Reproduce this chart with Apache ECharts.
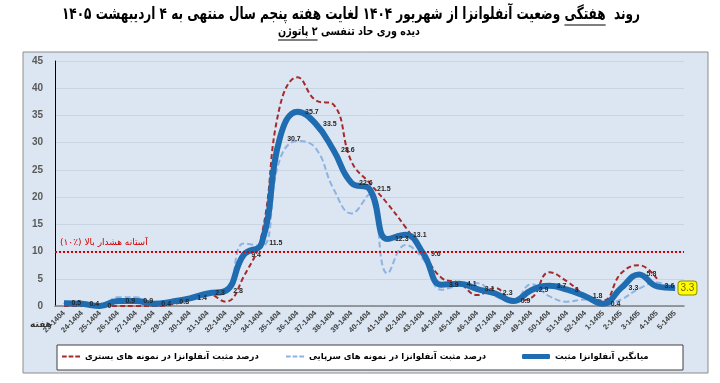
<!DOCTYPE html>
<html><head><meta charset="utf-8">
<script src="https://cdn.jsdelivr.net/npm/echarts@6/dist/echarts.min.js"></script>
<style>html,body{margin:0;padding:0;background:#fff}#c{width:720px;height:383px}</style>
</head><body><div id="c"></div>
<script>
var categories = ['23-1404','24-1404','25-1404','26-1404','27-1404','28-1404','29-1404','30-1404','31-1404','32-1404','33-1404','34-1404','35-1404','36-1404','37-1404','38-1404','39-1404','40-1404','41-1404','42-1404','43-1404','44-1404','45-1404','46-1404','47-1404','48-1404','49-1404','50-1404','51-1404','52-1404','1-1405','2-1405','3-1405','4-1405','5-1405'];
var meanPositive = [0.5,0.4,0,0.9,0.9,0.4,0.8,1.4,2.3,2.8,9.4,11.5,30.7,35.7,33.5,28.6,22.6,21.5,12.3,13.1,9.6,3.9,4.1,3.1,2.3,0.9,2.9,3.7,3,1.8,0.4,3.3,5.8,3.6,3.3];
var inpatient = [0,0,0,0,0,0,0.3,1.2,2.2,0.8,5.4,13,36.5,42,37.8,37,26.5,22.6,18.8,14.5,9.8,5.2,4.2,2,3.3,0.9,1.5,6.2,4.5,2,1,6,7.5,5,null];
var outpatient = [0.8,0.6,0.1,1.6,1.6,0.6,0.7,1.4,2.4,2.5,11.5,11,26.8,30.3,29,21.5,17,20.5,6,11.2,8.5,3,3.8,4.2,1.8,1,4,1.8,0.8,1.2,0.2,1.2,3.2,4.3,3.3];
var yTicks = {min:0, max:45, interval:5};
var threshold = 10;
var seriesNames = ['درصد مثبت آنفلوانزا در نمونه های بستری','درصد مثبت آنفلوانزا در نمونه های سرپایی','میانگین آنفلوانزا مثبت'];
var titleText = 'روند  هفتگی وضعیت آنفلوانزا از شهریور ۱۴۰۴ لغایت هفته پنجم سال منتهی به ۴ اردیبهشت ۱۴۰۵';
var titleUnderlined = 'هفتگی';
var titlePrefix = 'روند  ';
var subText = 'دیده وری حاد تنفسی ۲ پاتوژن';
var subUnderlined = '۲ پاتوژن';
var thresholdLabel = 'آستانه هشدار بالا (٪۱۰)';
var xName = 'هفته';

var FA = 'DejaVu Sans';
var ctx = document.createElement('canvas').getContext('2d');
function tw(text, font){ ctx.font = font; return ctx.measureText(text).width; }

var titleFont = 'bold 15px "DejaVu Sans"';
var titleW = tw(titleText, titleFont);
var titleCx = 351, titleTargetW = 578;
var tsx = titleTargetW / titleW;
var titleRight = titleCx + titleTargetW/2;
var ulR = titleRight - tw(titlePrefix, titleFont)*tsx;
var ulL = ulR - tw(titleUnderlined, titleFont)*tsx;

var subFont = 'bold 11px "DejaVu Sans"';
var subW = tw(subText, subFont);
var subCx = 349, subTargetW = 142;
var ssx = subTargetW / subW;
var subLeft = subCx - subTargetW/2;
var sulR = subLeft + tw(subUnderlined, subFont)*ssx;

var chart = echarts.init(document.getElementById('c'));
var last = meanPositive.length - 1;
var meanData = meanPositive.map(function(v, i){
  if (i === last) {
    return {value: v, label: {position:'right', distance:3, fontSize:10, fontWeight:'normal', color:'#7f6000',
      backgroundColor:'#ffff00', borderColor:'#8c8c00', borderWidth:1, borderRadius:3, padding:[2,2,1,2]}};
  }
  return v;
});
var dashIcon = 'path://M0,0h5v2h-5z M7,0h5v2h-5z M14,0h5v2h-5z';
function leg(name, left, icon, w, h){
  return {data:[{name:name, icon:icon}], left:left, top:352, itemWidth:w, itemHeight:h, padding:0, itemGap:4,
    textStyle:{fontFamily:FA, fontSize:8.5, fontWeight:'bold', color:'#000'}};
}
chart.setOption({
  animation:false,
  backgroundColor:'#ffffff',
  graphic:[
    {type:'rect', z:-10, shape:{x:23,y:52,width:685,height:321}, style:{fill:'#dce6f2', stroke:'#8c8c8c', lineWidth:1}},
    {type:'rect', z:-9, shape:{x:57,y:345,width:626,height:25}, style:{fill:'#ffffff', stroke:'#404040', lineWidth:1}},
    {type:'text', left:30, top:320, style:{text:xName, font:'bold 9px "DejaVu Sans"', fill:'#333'}},
    {type:'text', x:titleCx, y:15, scaleX:tsx, scaleY:1.1, style:{text:titleText, font:titleFont, fill:'#000', textAlign:'center', textVerticalAlign:'middle'}},
    {type:'line', shape:{x1:ulL, y1:25, x2:ulR, y2:25}, style:{stroke:'#000', lineWidth:1}},
    {type:'text', x:subCx, y:32, scaleX:ssx, scaleY:1.05, style:{text:subText, font:subFont, fill:'#000', textAlign:'center', textVerticalAlign:'middle'}},
    {type:'line', shape:{x1:subLeft, y1:40, x2:sulR, y2:40}, style:{stroke:'#000', lineWidth:1}}
  ],
  legend:[leg(seriesNames[0],62,dashIcon,18,2.5), leg(seriesNames[1],286,dashIcon,18,2.5), leg(seriesNames[2],522,'roundRect',28,5)],
  grid:{left:55, right:36, top:61, bottom:77},
  xAxis:{
    type:'category', data:categories, boundaryGap:true,
    axisLine:{lineStyle:{color:'#7f7f7f', width:1.5}},
    axisTick:{show:false},
    axisLabel:{rotate:45, fontSize:7.5, fontWeight:'bold', color:'#404040', interval:0, margin:6}
  },
  yAxis:{
    type:'value', min:yTicks.min, max:yTicks.max, interval:yTicks.interval,
    axisLine:{show:true, lineStyle:{color:'#000', width:1}},
    axisTick:{show:false},
    axisLabel:{fontSize:10, fontWeight:'bold', color:'#595959', margin:12},
    splitLine:{lineStyle:{color:'#c9d5e3', width:1}}
  },
  series:[
    {name:seriesNames[0], type:'line', data:inpatient, smooth:0.45, symbol:'none', connectNulls:false,
     lineStyle:{color:'#a52a2a', width:2, type:[5,3]}, itemStyle:{color:'#a52a2a'}, z:3},
    {name:seriesNames[1], type:'line', data:outpatient, smooth:0.45, symbol:'none',
     lineStyle:{color:'#8db3e2', width:2, type:[6,3]}, itemStyle:{color:'#8db3e2'}, z:2},
    {name:seriesNames[2], type:'line', data:meanData, smooth:0.45, symbol:'circle', symbolSize:1, showSymbol:true,
     lineStyle:{color:'#1f6cb0', width:6}, itemStyle:{color:'#1f6cb0'}, z:4,
     label:{show:true, position:'right', distance:7, fontSize:7, fontWeight:'bold', color:'#262626'},
     labelLayout:{hideOverlap:false},
     markLine:{silent:true, symbol:'none', data:[{yAxis:threshold}],
       lineStyle:{color:'#cc0000', width:2, type:'dotted'},
       label:{show:true, position:'insideStartTop', formatter:thresholdLabel, fontFamily:FA, fontSize:9, color:'#cc0000', distance:[5,4]}}}
  ]
});
</script></body></html>
